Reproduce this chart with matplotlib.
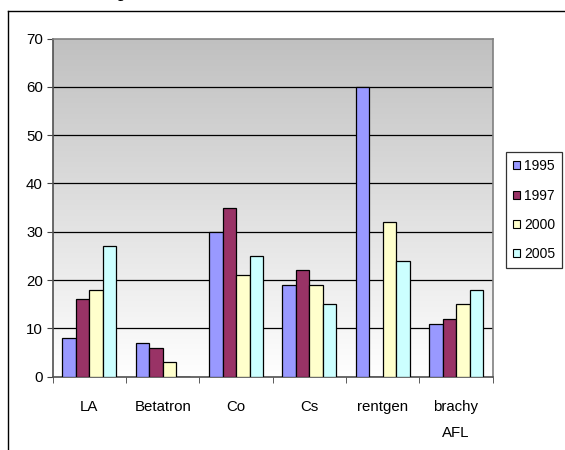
import matplotlib
matplotlib.use("Agg")
import matplotlib.pyplot as plt
import numpy as np
from matplotlib.lines import Line2D

categories = ["LA", "Betatron", "Co", "Cs", "rentgen", "brachy\nAFL"]
years = ["1995", "1997", "2000", "2005"]
v1995 = [8, 7, 30, 19, 60, 11]
v1997 = [16, 6, 35, 22, 0, 12]
v2000 = [18, 3, 21, 19, 32, 15]
v2005 = [27, 0, 25, 15, 24, 18]
colors = ["#9999FF", "#993366", "#FFFFCC", "#CCFFFF"]
yticks = [0, 10, 20, 30, 40, 50, 60, 70]

plt.rcParams["font.family"] = ["Liberation Sans", "DejaVu Sans"]
plt.rcParams["font.size"] = 10.8

W, H = 565, 450
fig = plt.figure(figsize=(W / 100, H / 100), dpi=100)
fig.patch.set_facecolor("white")

# outer chart frame (runs past the right and bottom edges)
fy = 1 - 11 / H
fig.add_artist(Line2D([8 / W, 8 / W], [0, fy], color="black", lw=1.0, transform=fig.transFigure))
fig.add_artist(Line2D([8 / W, 1], [fy, fy], color="black", lw=1.0, transform=fig.transFigure))
fig.text(123 / W, 1 + 4 / H, "p", fontsize=16, family="Liberation Serif", ha="center", va="baseline")

left, right, top, bottom = 52.7, 492.7, 38.5, 376.7
ax = fig.add_axes([left / W, 1 - bottom / H, (right - left) / W, (bottom - top) / H])

# grey-to-white gradient background of the plot area
grad = np.linspace(0, 1, 256).reshape(-1, 1)
cmap = matplotlib.colors.LinearSegmentedColormap.from_list("bg", ["#FFFFFF", "#C0C0C0"])
ax.imshow(grad, cmap=cmap, aspect="auto", extent=(-0.5, len(categories) - 0.5, 0, 70),
          origin="lower", zorder=0)

x = np.arange(len(categories))
width = 0.184
series = [v1995, v1997, v2000, v2005]
for i, (vals, col, yr) in enumerate(zip(series, colors, years)):
    xs = x + (i - 1.5) * width
    ax.bar(xs, vals, width=width, color=col, edgecolor="black", linewidth=0.9,
           label=yr, zorder=3)

ax.set_xlim(-0.5, len(categories) - 0.5)
ax.set_ylim(0, 70)
ax.set_yticks(yticks)
for t in yticks[1:-1]:
    ax.axhline(t, color="black", lw=0.9, zorder=1)

ax.set_xticks(x)
ax.set_xticklabels(categories, linespacing=2.05)
ax.set_xticks(np.arange(-0.5, len(categories)), minor=True)
ax.tick_params(axis="x", which="major", length=0, pad=17)
ax.tick_params(axis="x", which="minor", length=4.5, direction="out", color="#404040")
ax.tick_params(axis="y", length=4, direction="out", color="#404040", pad=3)

for name, sp in ax.spines.items():
    sp.set_color("#808080")
    sp.set_linewidth(1.2)
ax.spines["left"].set_color("#505050")
ax.spines["bottom"].set_color("#505050")

leg = ax.legend(loc="upper left",
                bbox_to_anchor=((506.3 - left) / (right - left), (bottom - 152.3) / (bottom - top)),
                frameon=True, fancybox=False, edgecolor="black", fontsize=10,
                handlelength=0.5, handleheight=0.5,
                handletextpad=0.3, borderpad=0.5, labelspacing=1.1, borderaxespad=0)
leg.get_frame().set_linewidth(0.9)
for h in leg.legend_handles:
    h.set_linewidth(0.8)

fig.savefig("out.png", dpi=100)
